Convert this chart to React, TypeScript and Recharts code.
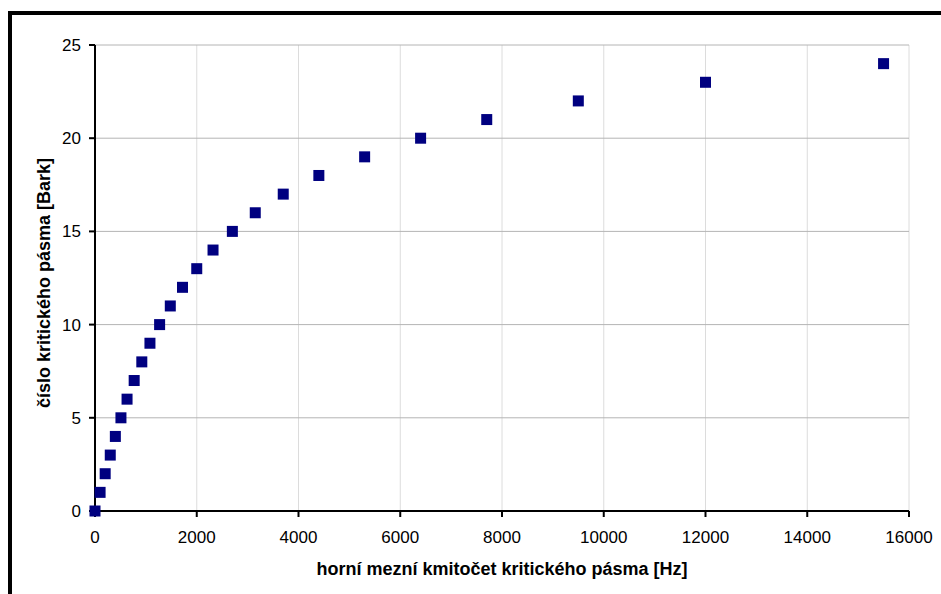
import React from 'react';
import { ScatterChart, Scatter, XAxis, YAxis, CartesianGrid, Label } from 'recharts';

// horní mezní kmitočty kritických pásem [Hz] a čísla pásem [Bark]
const upperFreqs = [
  0, 100, 200, 300, 400, 510, 630, 770, 920, 1080, 1270, 1480, 1720, 2000, 2320,
  2700, 3150, 3700, 4400, 5300, 6400, 7700, 9500, 12000, 15500,
];
const barkValues = [
  0, 1, 2, 3, 4, 5, 6, 7, 8, 9, 10, 11, 12, 13, 14, 15, 16, 17, 18, 19, 20, 21, 22, 23, 24,
];
const xTicks = [0, 2000, 4000, 6000, 8000, 10000, 12000, 14000, 16000];
const yTicks = [0, 5, 10, 15, 20, 25];

const xTitle = 'horní mezní kmitočet kritického pásma [Hz]';
const yTitle = 'číslo kritického pásma [Bark]';

const data = upperFreqs.map((f, i) => ({ f, bark: barkValues[i] }));

const font = '"Liberation Sans", Arial, sans-serif';
const tickStyle = { fill: '#000', fontSize: 17, fontFamily: font };

const SquareMarker = (props: any) => {
  const { cx, cy } = props;
  const s = 11;
  return <rect x={cx - s / 2} y={cy - s / 2} width={s} height={s} fill="#000080" />;
};

export default function App() {
  return (
    <div style={{ position: 'fixed', left: 0, top: 0, width: 941, height: 594, background: '#fff', overflow: 'hidden' }}>
      <div
        style={{
          position: 'absolute',
          left: 8,
          top: 11,
          width: 1000,
          height: 1000,
          border: '4px solid #000',
        }}
      />
      <ScatterChart
        width={941}
        height={594}
        margin={{ top: 45, right: 32, bottom: 23, left: 35 }}
        style={{ position: 'absolute', left: 0, top: 0 }}
      >
        <CartesianGrid horizontal={false} stroke="#dcdcdc" strokeWidth={1} />
        <CartesianGrid vertical={false} stroke="#b4b4b4" strokeWidth={1} />
        <XAxis
          type="number"
          dataKey="f"
          domain={[0, 16000]}
          ticks={xTicks}
          height={60}
          tick={tickStyle}
          tickSize={6}
          tickMargin={14}
          stroke="#000"
          strokeWidth={2}
          tickLine={{ stroke: '#000', strokeWidth: 2 }}
          interval={0}
        >
          <Label
            content={({ viewBox }: any) => (
              <text
                x={viewBox.x + viewBox.width / 2}
                y={575}
                textAnchor="middle"
                fontFamily={font}
                fontWeight="bold"
                fontSize={18}
                fill="#000"
              >
                {xTitle}
              </text>
            )}
          />
        </XAxis>
        <YAxis
          type="number"
          dataKey="bark"
          domain={[0, 25]}
          ticks={yTicks}
          width={60}
          tick={tickStyle}
          tickSize={6}
          tickMargin={8}
          stroke="#000"
          strokeWidth={2}
          tickLine={{ stroke: '#000', strokeWidth: 2 }}
          interval={0}
        >
          <Label
            content={() => (
              <text
                x={0}
                y={0}
                transform="translate(50, 283) rotate(-90)"
                textAnchor="middle"
                fontFamily={font}
                fontWeight="bold"
                fontSize={18}
                fill="#000"
              >
                {yTitle}
              </text>
            )}
          />
        </YAxis>
        <Scatter data={data} shape={SquareMarker} isAnimationActive={false} />
      </ScatterChart>
    </div>
  );
}
